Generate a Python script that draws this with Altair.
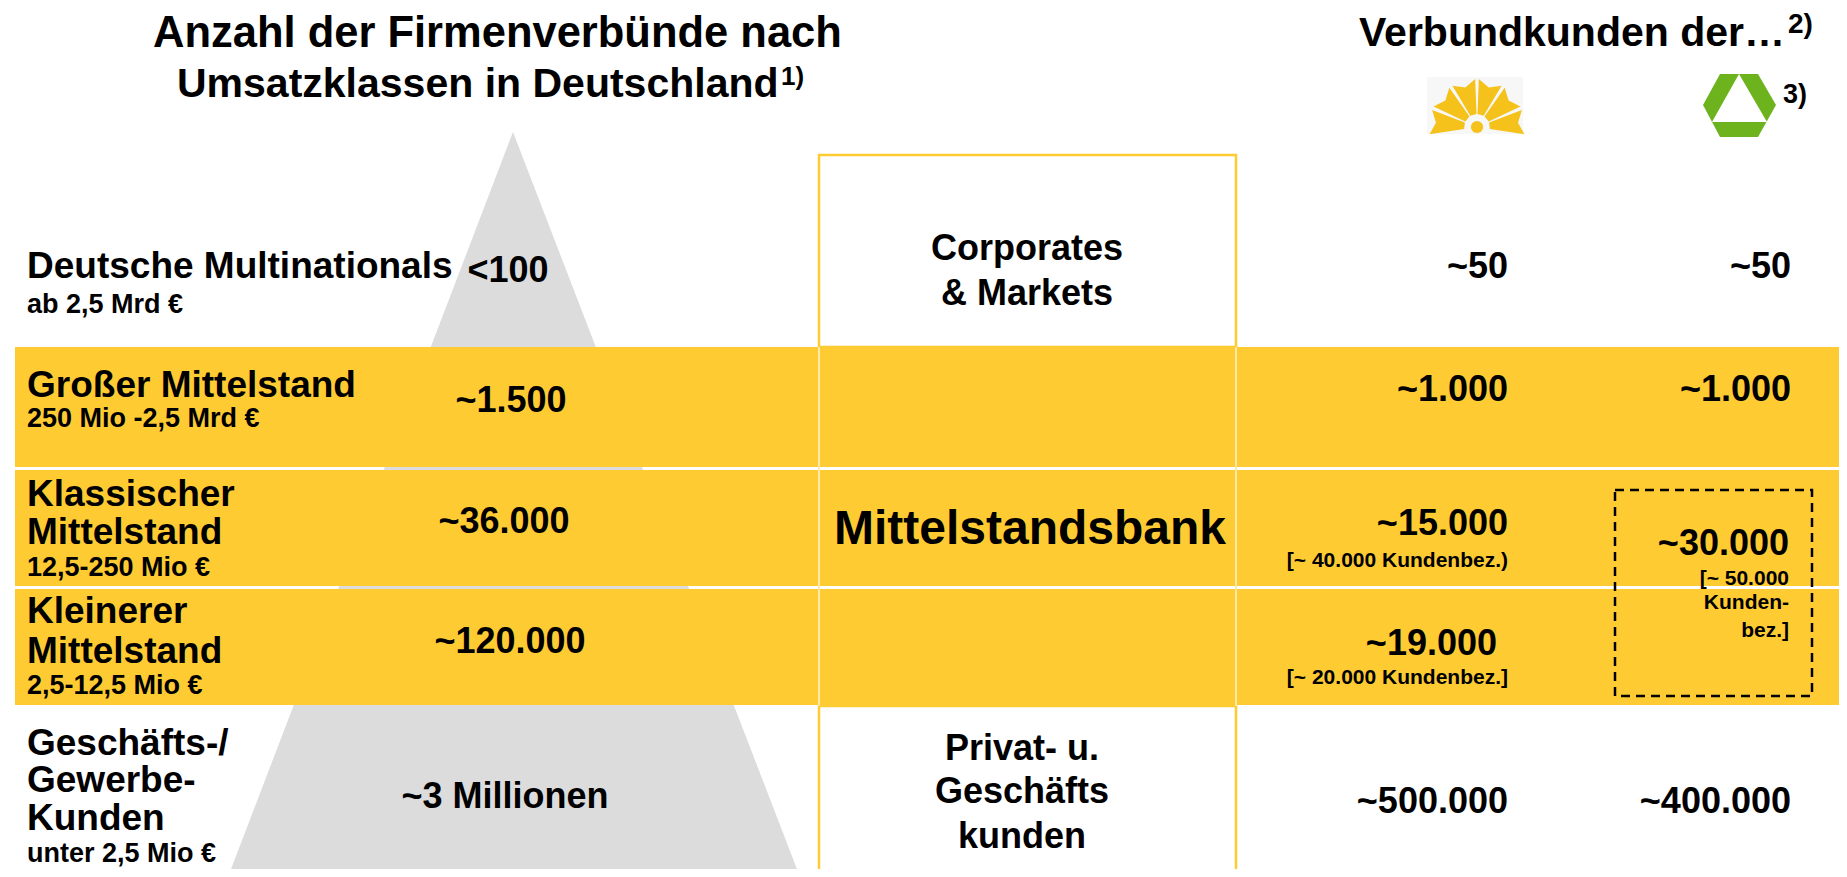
import math
import altair as alt
import pandas as pd

# ---------------- values ----------------
title_left = ["Anzahl der Firmenverbünde nach", "Umsatzklassen in Deutschland"]
title_right = "Verbundkunden der…"
segment_label_lines = [["Deutsche Multinationals"], ["Großer Mittelstand"],
                       ["Klassischer", "Mittelstand"], ["Kleinerer", "Mittelstand"],
                       ["Geschäfts-/", "Gewerbe-", "Kunden"]]
revenue_classes = ["ab 2,5 Mrd €", "250 Mio -2,5 Mrd €", "12,5-250 Mio €",
                   "2,5-12,5 Mio €", "unter 2,5 Mio €"]
firm_counts = ["<100", "~1.500", "~36.000", "~120.000", "~3 Millionen"]
business_units = [["Corporates", "& Markets"], ["Mittelstandsbank"],
                  ["Privat- u.", "Geschäfts", "kunden"]]
customers_bank1 = ["~50", "~1.000", "~15.000", "~19.000", "~500.000"]
customers_bank1_rel = ["", "", "[~ 40.000 Kundenbez.)", "[~ 20.000 Kundenbez.]", ""]
customers_bank2 = ["~50", "~1.000", "~30.000", "~400.000"]
customers_bank2_rel = ["[~ 50.000", "Kunden-", "bez.]"]
footnotes = ["1)", "2)", "3)"]

# ---------------- layout (pixel positions of the slide) ----------------
FONT = "Liberation Sans"
YELLOW = "#FFCB33"
GRAY = "#DCDCDC"
label_base = [[278], [397], [506, 544], [623, 663], [755, 792, 830]]
sub_base = [313, 427, 576, 694, 862]
count_x = [508, 511, 504, 510, 505]
count_base = [282, 412, 533, 653, 808]
unit_x = [1027, 1030, 1022]
unit_base = [[260, 305], [544], [760, 803, 848]]
unit_size = [36, 48, 36]
b1_right = [1508, 1508, 1508, 1497, 1508]
b1_base = [278, 401, 535, 655, 813]
b1_rel_base = [0, 0, 567, 684, 0]
b2_right = [1791, 1791, 1789, 1791]
b2_base = [278, 401, 555, 813]
b2_rel_base = [585, 609, 637]

xs = alt.Scale(domain=[8, 1839], nice=False, zero=False)
ys = alt.Scale(domain=[8, 869], nice=False, zero=False, reverse=True)


def X(f):
    return alt.X(f, type="quantitative", scale=xs, axis=None)


def Y(f):
    return alt.Y(f, type="quantitative", scale=ys, axis=None)


# ---------------- texts ----------------
left, center, right = [], [], []
left.append(dict(x=153, y=47, t=title_left[0], s=43.5))
left.append(dict(x=177, y=97, t=title_left[1], s=41))
left.append(dict(x=781, y=85, t=footnotes[0], s=26))
left.append(dict(x=1359, y=46, t=title_right, s=41))
left.append(dict(x=1788, y=33, t=footnotes[1], s=28))
left.append(dict(x=1783, y=103, t=footnotes[2], s=27))
for lines, bases in zip(segment_label_lines, label_base):
    for t, b in zip(lines, bases):
        left.append(dict(x=27, y=b, t=t, s=37))
for t, b in zip(revenue_classes, sub_base):
    left.append(dict(x=27, y=b, t=t, s=27))
for t, cx, b in zip(firm_counts, count_x, count_base):
    center.append(dict(x=cx, y=b, t=t, s=36))
for lines, cx, bases, sz in zip(business_units, unit_x, unit_base, unit_size):
    for t, b in zip(lines, bases):
        center.append(dict(x=cx, y=b, t=t, s=sz))
for t, rx, b in zip(customers_bank1, b1_right, b1_base):
    right.append(dict(x=rx, y=b, t=t, s=36))
for t, b in zip(customers_bank1_rel, b1_rel_base):
    if t:
        right.append(dict(x=1508, y=b, t=t, s=21))
for t, rx, b in zip(customers_bank2, b2_right, b2_base):
    right.append(dict(x=rx, y=b, t=t, s=36))
for t, b in zip(customers_bank2_rel, b2_rel_base):
    right.append(dict(x=1789, y=b, t=t, s=21))


def text_layer(rows, align):
    return alt.Chart(pd.DataFrame(rows)).mark_text(
        align=align, baseline="alphabetic", font=FONT, fontWeight="bold", color="black"
    ).encode(x=X("x"), y=Y("y"), text="t:N", size=alt.Size("s:Q", scale=None, legend=None))


# ---------------- shapes ----------------
tri = alt.Chart(pd.DataFrame(dict(x=[228, 513, 800], y=[877, 132, 877], y2=[877, 877, 877]))).mark_area(
    color=GRAY, clip=True).encode(x=X("x"), y=Y("y"), y2="y2")

bands = alt.Chart(pd.DataFrame(dict(x=[15, 15, 15], x2=[1847] * 3, y=[347, 470, 589], y2=[467, 586, 705]))
                  ).mark_rect(color=YELLOW, clip=True).encode(x=X("x"), x2="x2", y=Y("y"), y2="y2")

boxes = alt.Chart(pd.DataFrame(dict(x=[819, 819], x2=[1236, 1236], y=[155, 706], y2=[347, 880]))).mark_rect(
    fill="white", stroke=YELLOW, strokeWidth=2.5, clip=True).encode(x=X("x"), x2="x2", y=Y("y"), y2="y2")

vlines = alt.Chart(pd.DataFrame(dict(x=[819, 1236], y=[347, 347], y2=[706, 706]))).mark_rule(
    color="#FFE9A8", strokeWidth=2).encode(x=X("x"), y=Y("y"), y2="y2")

dashed = alt.Chart(pd.DataFrame(dict(x=[1615], x2=[1812], y=[490], y2=[696]))).mark_rect(
    filled=False, stroke="black", strokeWidth=2.5, strokeDash=[9, 6]).encode(
    x=X("x"), x2="x2", y=Y("y"), y2="y2")

# logo 1 (yellow fan) as a custom symbol path; unit = 48 px
logo_bg = alt.Chart(pd.DataFrame(dict(x=[1427], x2=[1523], y=[77], y2=[134]))).mark_rect(
    color="#F7F7F7").encode(x=X("x"), x2="x2", y=Y("y"), y2="y2")
U = 48.0
edges = [-101, -67, -33, 0, 33, 67, 101]
parts = []
for a, b in zip(edges[:-1], edges[1:]):
    a1, b1 = math.radians(a + 2.2), math.radians(b - 2.2)
    r1, r2 = 13 / U, 48 / U
    m = (a1 + b1) / 2
    pts = [(r1 * math.sin(a1), -r1 * math.cos(a1)), (r2 * math.sin(a1), -r2 * math.cos(a1)),
           (0.86 * r2 * math.sin(m), -0.86 * r2 * math.cos(m)),
           (r2 * math.sin(b1), -r2 * math.cos(b1)), (r1 * math.sin(b1), -r1 * math.cos(b1))]
    parts.append("M" + " L".join(f"{px:.3f},{py:.3f}" for px, py in pts) + " Z")
fan_path = " ".join(parts)
fan_layer = alt.Chart(pd.DataFrame(dict(x=[1477], y=[127]))).mark_point(
    shape=fan_path, filled=True, color="#F5C21B", opacity=1, size=(2 * U) ** 2).encode(x=X("x"), y=Y("y"))
dot = alt.Chart(pd.DataFrame(dict(x=[1477], y=[127]))).mark_circle(
    color="#F5C21B", opacity=1, size=150).encode(x=X("x"), y=Y("y"))

# logo 2 (green hexagon)
hexa = alt.Chart(pd.DataFrame(dict(x=[1703, 1720, 1758, 1776], y=[105, 74, 74, 105], y2=[105, 137, 137, 105]))
                 ).mark_area(color="#6DB31E").encode(x=X("x"), y=Y("y"), y2="y2")
hole = alt.Chart(pd.DataFrame(dict(x=[1712, 1739, 1767], y=[122, 74, 122], y2=[122, 122, 122]))
                 ).mark_area(color="white").encode(x=X("x"), y=Y("y"), y2="y2")

chart = alt.layer(
    tri, bands, boxes, vlines, dashed, logo_bg, fan_layer, dot, hexa, hole,
    text_layer(left, "left"), text_layer(center, "center"), text_layer(right, "right")
).properties(width=1831, height=861, padding=0, autosize=alt.AutoSizeParams(type="none")
).configure_view(stroke=None)

chart.save("out.html", embed_options={"renderer": "svg", "actions": False})
